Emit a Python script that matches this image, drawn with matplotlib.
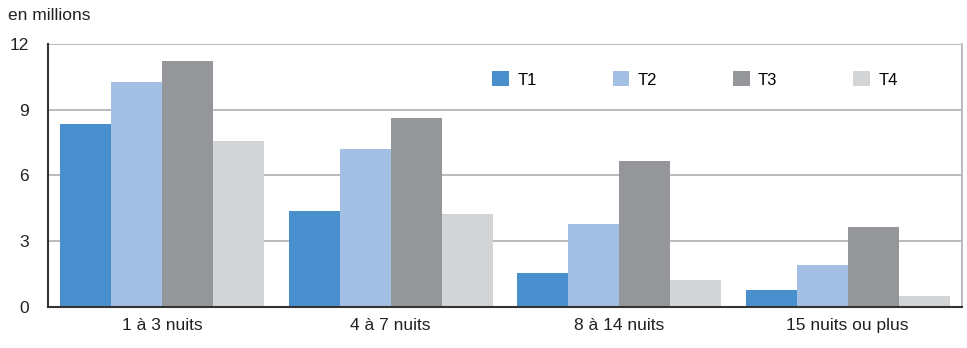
import numpy as np
import matplotlib.pyplot as plt

categories = ["1 à 3 nuits", "4 à 7 nuits", "8 à 14 nuits", "15 nuits ou plus"]
series = ["T1", "T2", "T3", "T4"]
t1 = [8.36, 4.38, 1.55, 0.78]
t2 = [10.27, 7.21, 3.79, 1.92]
t3 = [11.23, 8.63, 6.67, 3.65]
t4 = [7.58, 4.25, 1.23, 0.50]
yticks = [0, 3, 6, 9, 12]

colors = ["#4a8fcd", "#a3bfe3", "#959699", "#d3d4d6"]

plt.rcParams['font.family'] = ['Liberation Sans', 'DejaVu Sans']

fig = plt.figure(figsize=(9.67, 3.48), dpi=100)
ax = fig.add_axes([0.0496, 0.1178, 0.9452, 0.7558])

x = np.arange(len(categories))
w = 0.2235
for i, (vals, name) in enumerate(zip([t1, t2, t3, t4], series)):
    ax.bar(x + (i - 1.5) * w, vals, w, color=colors[i], label=name, zorder=3)

ax.set_xlim(-0.5, 3.5)
ax.set_ylim(0, 12)
ax.set_yticks(yticks)
ax.set_xticks(x)
ax.set_xticklabels(categories, fontsize=12.5, color="#222222")
ax.tick_params(axis='y', labelsize=12.5, colors="#222222", length=0, pad=14)
ax.tick_params(axis='x', length=0, pad=8)
ax.yaxis.grid(True, color="#b5b5b8", linewidth=1.3, zorder=0)

for s in ["left", "bottom"]:
    ax.spines[s].set_color("#333333")
    ax.spines[s].set_linewidth(1.5)
ax.spines["top"].set_visible(False)
ax.spines["right"].set_color("#b5b5b8")
ax.spines["right"].set_linewidth(1.3)
ax.spines["bottom"].set_zorder(4)

ax.legend(loc="center left", bbox_to_anchor=(0.479, 0.865), ncol=4, frameon=False,
          fontsize=12, handlelength=1.0, handleheight=1.0, handletextpad=0.5,
          columnspacing=4.55, borderaxespad=0)

fig.text(0.008, 0.955, "en millions", fontsize=12.5, color="#222222", va="center")

fig.savefig("out.png", dpi=100)
